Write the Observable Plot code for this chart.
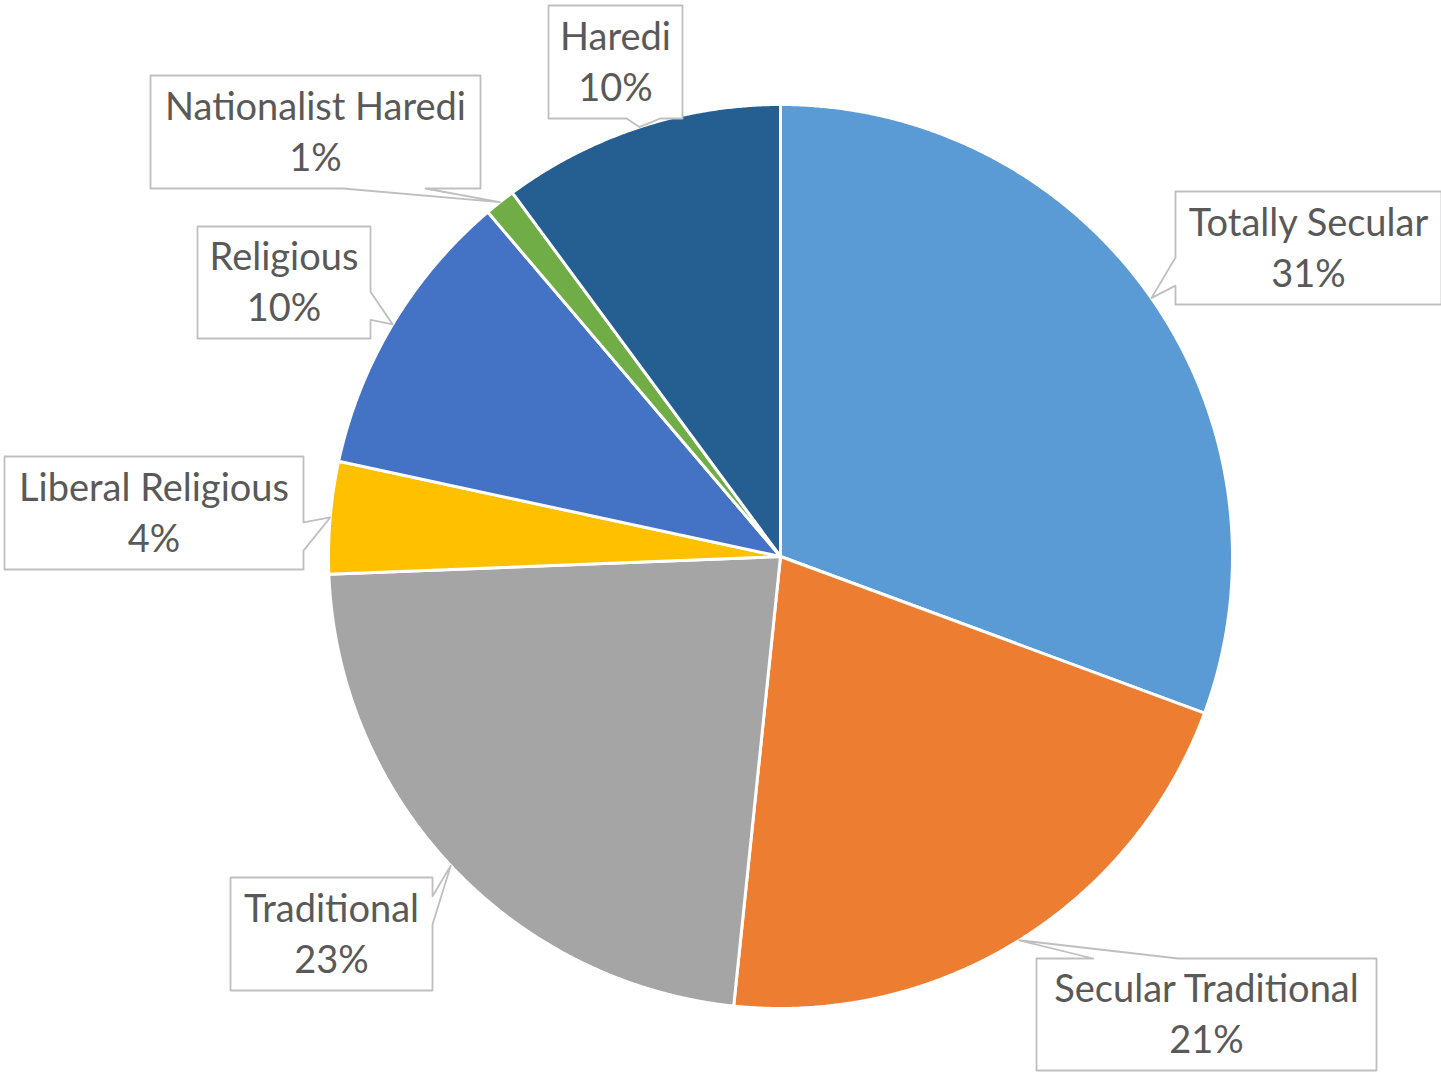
<!DOCTYPE html>
<html><head><meta charset="utf-8">
<script src="https://cdn.jsdelivr.net/npm/d3@7"></script>
<script src="https://cdn.jsdelivr.net/npm/@observablehq/plot@0.6"></script>
<style>body{margin:0;background:#fff;} #chart{width:1441px;height:1072px;}</style>
</head><body><div id="chart"></div>
<script>
// ---- data ----
const categories = ["Totally Secular","Secular Traditional","Traditional","Liberal Religious","Religious","Nationalist Haredi","Haredi"];
const shares = [30.6, 21.0, 22.7, 4.0, 10.4, 1.1, 10.1];
const percentLabels = ["31%","21%","23%","4%","10%","1%","10%"];
const colors = ["#5B9BD5","#ED7D31","#A5A5A5","#FFC000","#4472C4","#70AD47","#255E91"];

// ---- layout (callout boxes, pixels) ----
const boxCx = [1308, 1206, 331, 153.5, 283.5, 315, 615];
const boxCy = [247.5, 1014, 933.5, 512.5, 282, 131.5, 61.5];
const boxW  = [266, 340, 202, 299, 173, 330, 134];
const boxH  = [113, 112, 113, 113, 112, 113, 113];
const wedgeSide = [null, null, "right", null, null, null, null];
const CX = 780, CY = 556, R = 452;
const FS = 38, FONT = "Lato, 'Open Sans', sans-serif";

const total = d3.sum(shares);
const slicePts = [];
const mids = [];
let cum = 0;
categories.forEach((name, i) => {
  const a0 = cum / total * 2 * Math.PI;
  cum += shares[i];
  const a1 = cum / total * 2 * Math.PI;
  mids.push((a0 + a1) / 2);
  slicePts.push({name, x: 0, y: 0});
  const n = Math.max(2, Math.ceil((a1 - a0) / (Math.PI / 720)));
  for (let k = 0; k <= n; k++) {
    const a = a0 + (a1 - a0) * k / n;
    slicePts.push({name, x: Math.sin(a), y: Math.cos(a)});
  }
  slicePts.push({name, x: 0, y: 0});
});

// callouts (Excel wedgeRectCallout geometry)
const toU = ([px, py], id) => ({id, x: (px - CX) / R, y: (CY - py) / R});
const calloutPts = [];
const labelData = [];
categories.forEach((name, i) => {
  const w = boxW[i], h = boxH[i];
  const l = boxCx[i] - w / 2, r = boxCx[i] + w / 2, t = boxCy[i] - h / 2, b = boxCy[i] + h / 2;
  const tip = [CX + R * Math.sin(mids[i]), CY - R * Math.cos(mids[i])];
  const dx = tip[0] - boxCx[i], dy = tip[1] - boxCy[i];
  const pts = [[l, t]];
  let side = wedgeSide[i];
  if (!side) {
    if (Math.abs(dx) / w > Math.abs(dy) / h) side = dx < 0 ? "left" : "right";
    else side = dy < 0 ? "top" : "bottom";
  }
  const f = (side === "left" || side === "right")
    ? (dy > 0 ? [7/12, 10/12] : [2/12, 5/12])
    : (dx > 0 ? [7/12, 10/12] : [2/12, 5/12]);
  if (side === "top") pts.push([l + f[0]*w, t], tip, [l + f[1]*w, t]);
  pts.push([r, t]);
  if (side === "right") pts.push([r, t + f[0]*h], tip, [r, t + f[1]*h]);
  pts.push([r, b]);
  if (side === "bottom") pts.push([l + f[1]*w, b], tip, [l + f[0]*w, b]);
  pts.push([l, b]);
  if (side === "left") pts.push([l, t + f[1]*h], tip, [l, t + f[0]*h]);
  pts.push([l, t]);
  pts.forEach(p => calloutPts.push(toU(p, name)));
  const c = toU([boxCx[i], boxCy[i]], name);
  labelData.push({x: c.x, y: c.y, text: name + "\n" + percentLabels[i]});
});

const chart = Plot.plot({
  width: 1441,
  height: 1072,
  margin: 0,
  x: {domain: [-1, 1], range: [CX - R, CX + R], axis: null},
  y: {domain: [-1, 1], range: [CY + R, CY - R], axis: null},
  color: {domain: categories, range: colors},
  style: {fontFamily: FONT, background: "white"},
  marks: [
    Plot.line(slicePts, {x: "x", y: "y", z: "name", fill: "name", stroke: "white", strokeWidth: 3, strokeLinejoin: "round", curve: "linear"}),
    Plot.line(calloutPts, {x: "x", y: "y", z: "id", fill: "white", stroke: "#BFBFBF", strokeWidth: 1.8, curve: "linear"}),
    Plot.text(labelData, {x: "x", y: "y", text: "text", fontSize: FS, fontFamily: FONT, fill: "#595959", lineHeight: 51 / FS, dy: 9 - 0.32 * FS, textAnchor: "middle"})
  ]
});
document.getElementById("chart").appendChild(chart);
</script>
</body></html>
